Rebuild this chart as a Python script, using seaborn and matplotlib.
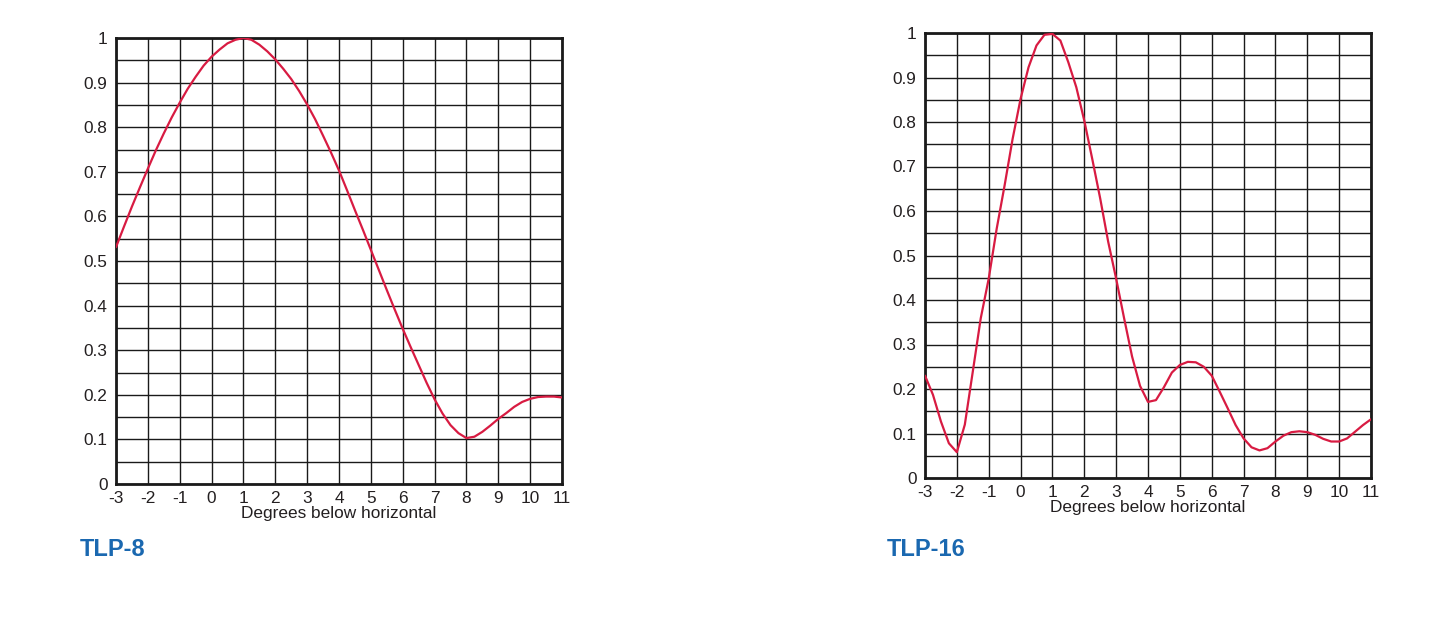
import numpy as np
import pandas as pd
import matplotlib.pyplot as plt
import seaborn as sns
from matplotlib.ticker import MultipleLocator

# TLP-8 response (0.25 degree steps)
tlp8_deg = [-3, -2.75, -2.5, -2.25, -2, -1.75, -1.5, -1.25, -1, -0.75, -0.5, -0.25,
            0, 0.25, 0.5, 0.75, 1, 1.25, 1.5, 1.75, 2, 2.25, 2.5, 2.75,
            3, 3.25, 3.5, 3.75, 4, 4.25, 4.5, 4.75, 5, 5.25, 5.5, 5.75,
            6, 6.25, 6.5, 6.75, 7, 7.25, 7.5, 7.75, 8, 8.25, 8.5, 8.75,
            9, 9.25, 9.5, 9.75, 10, 10.25, 10.5, 10.75, 11]
tlp8_val = [0.531, 0.577, 0.622, 0.665, 0.707, 0.748, 0.786, 0.822, 0.855, 0.886, 0.913, 0.938,
            0.958, 0.974, 0.988, 0.996, 1.0, 0.996, 0.985, 0.970, 0.952, 0.931, 0.908, 0.881,
            0.851, 0.818, 0.781, 0.743, 0.703, 0.659, 0.614, 0.570, 0.525, 0.480, 0.435, 0.391,
            0.348, 0.307, 0.267, 0.227, 0.19, 0.158, 0.132, 0.114, 0.103, 0.106, 0.117, 0.131,
            0.146, 0.159, 0.173, 0.184, 0.191, 0.195, 0.196, 0.196, 0.194]

# TLP-16 response (0.25 degree steps)
tlp16_deg = [-3, -2.75, -2.5, -2.25, -2, -1.75, -1.5, -1.25, -1, -0.75, -0.5, -0.25,
             0, 0.25, 0.5, 0.75, 1, 1.25, 1.5, 1.75, 2, 2.25, 2.5, 2.75,
             3, 3.25, 3.5, 3.75, 4, 4.25, 4.5, 4.75, 5, 5.25, 5.5, 5.75,
             6, 6.25, 6.5, 6.75, 7, 7.25, 7.5, 7.75, 8, 8.25, 8.5, 8.75,
             9, 9.25, 9.5, 9.75, 10, 10.25, 10.5, 10.75, 11]
tlp16_val = [0.230, 0.187, 0.127, 0.078, 0.058, 0.12, 0.239, 0.359, 0.448, 0.56, 0.658, 0.762,
             0.852, 0.923, 0.972, 0.996, 0.998, 0.983, 0.934, 0.878, 0.803, 0.717, 0.628, 0.531,
             0.448, 0.359, 0.273, 0.207, 0.171, 0.175, 0.204, 0.237, 0.254, 0.261, 0.260, 0.250,
             0.230, 0.194, 0.157, 0.119, 0.089, 0.069, 0.062, 0.067, 0.082, 0.095, 0.103, 0.105,
             0.103, 0.097, 0.088, 0.082, 0.082, 0.089, 0.104, 0.119, 0.132]

x_ticks = list(range(-3, 12))
y_ticks = [0, 0.1, 0.2, 0.3, 0.4, 0.5, 0.6, 0.7, 0.8, 0.9, 1]
y_labels = ["0", "0.1", "0.2", "0.3", "0.4", "0.5", "0.6", "0.7", "0.8", "0.9", "1"]

LINE_COLOR = "#d81b42"
TEXT_COLOR = "#231f20"
TITLE_COLOR = "#1a68b0"

sns.set_style("white")
plt.rcParams['font.family'] = ['Liberation Sans', 'DejaVu Sans']

fig = plt.figure(figsize=(14.46, 6.38), dpi=100)
ax1 = fig.add_axes([116 / 1446, (638 - 484) / 638, 446 / 1446, 446 / 638])
ax2 = fig.add_axes([925 / 1446, (638 - 478) / 638, 446 / 1446, 445 / 638])


def draw_panel(ax, deg, val, title, title_x, title_y):
    df = pd.DataFrame({"deg": deg, "val": val})
    sns.lineplot(data=df, x="deg", y="val", ax=ax, color=LINE_COLOR, linewidth=1.6, zorder=3)
    ax.set_xlim(-3, 11)
    ax.set_ylim(0, 1)
    ax.xaxis.set_minor_locator(MultipleLocator(1))
    ax.yaxis.set_minor_locator(MultipleLocator(0.05))
    ax.grid(which="both", color="#1a1a1a", linewidth=1.0)
    ax.set_axisbelow(True)
    ax.set_xticks(x_ticks)
    ax.set_xticklabels([str(t) for t in x_ticks])
    ax.set_yticks(y_ticks)
    ax.set_yticklabels(y_labels)
    ax.tick_params(which="both", length=0, labelsize=12.4, colors=TEXT_COLOR)
    ax.tick_params(axis="y", pad=6)
    ax.tick_params(axis="x", pad=5)
    for s in ax.spines.values():
        s.set_visible(True)
        s.set_color("#1a1a1a")
        s.set_linewidth(2)
    ax.set_xlabel("Degrees below horizontal", fontsize=12.4, color=TEXT_COLOR, labelpad=0)
    ax.set_ylabel("")
    fig.text(title_x, title_y, title, fontsize=17, fontweight="bold",
             color=TITLE_COLOR, ha="left", va="center")


draw_panel(ax1, tlp8_deg, tlp8_val, "TLP-8", 80 / 1446, 1 - 550 / 638)
draw_panel(ax2, tlp16_deg, tlp16_val, "TLP-16", 887 / 1446, 1 - 549 / 638)

fig.savefig("out.png", dpi=100, facecolor="white")
